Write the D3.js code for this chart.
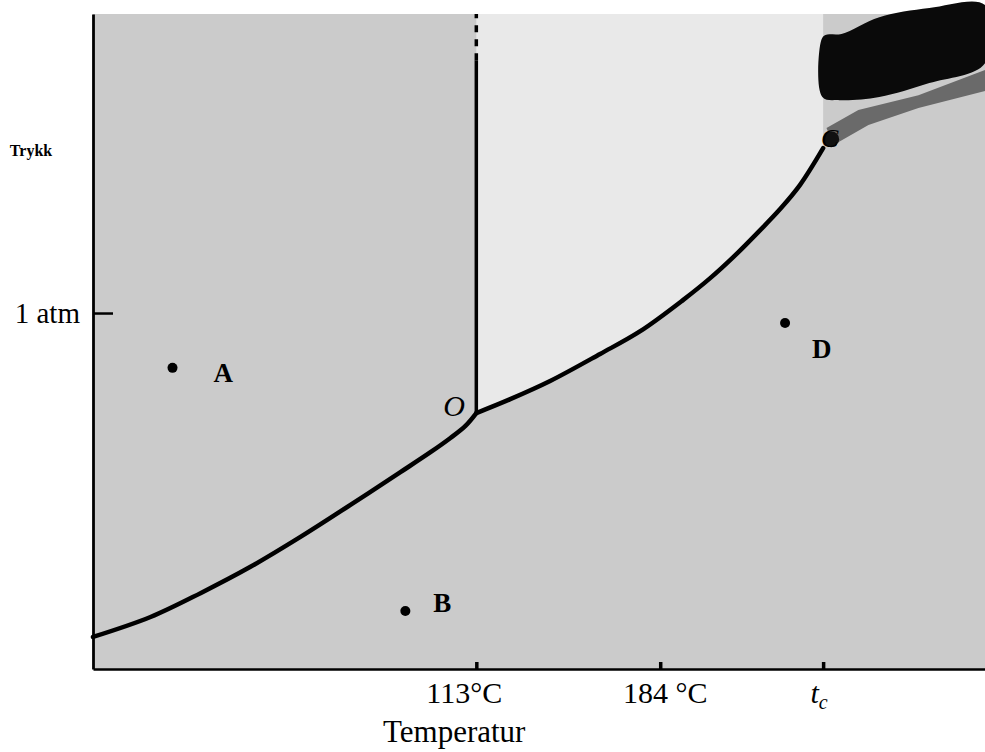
<!DOCTYPE html>
<html>
<head>
<meta charset="utf-8">
<script src="https://cdn.jsdelivr.net/npm/d3@7"></script>
<style>
  html, body { margin: 0; padding: 0; background: #ffffff; }
  svg { display: block; }
  text { font-family: "Liberation Serif", "DejaVu Serif", serif; fill: #000; }
</style>
</head>
<body>
<svg id="chart" width="985" height="752"></svg>
<script>
// ---------- data (diagram units: temperature in °C-like units, pressure in atm-like units) ----------
const tDomain = [-35, 309.4];
const pDomain = [0, 1.84];

// sublimation curve (solid–vapour), ends at triple point O
const sublimationT = [-35, -12.8, 6.5, 25.8, 45.1, 64.4, 83.7, 95.3, 103, 108.8, 113];
const sublimationP = [0.090, 0.146, 0.213, 0.287, 0.371, 0.461, 0.553, 0.609, 0.649, 0.683, 0.719];

// vapour-pressure curve (liquid–vapour), from O to critical point C
const vaporT = [113, 126.1, 141.5, 160.8, 176.3, 192.9, 203.3, 212.2, 222.6, 230.3, 238.0, 246.9];
const vaporP = [0.719, 0.758, 0.809, 0.885, 0.949, 1.037, 1.098, 1.157, 1.233, 1.292, 1.360, 1.463];

// melting line (vertical) from O upward
const meltingT = 113;
const meltingP = [0.719, 1.71, 1.84];   // solid part, then dashed part

// x-axis ticks
const xTickValues = [113, 184, 246.9];
const xTickLabels = ["113°C", "184 °C", "t_c"];

// y-axis tick
const yTickValues = [1];
const yTickLabels = ["1 atm"];

// labelled points
const pointNames = ["A", "B", "D"];
const pointT = [-4.3, 85.6, 232.2];
const pointP = [0.846, 0.163, 0.972];

// triple point and critical point labels
const specialNames = ["O", "C"];
const specialT = [113, 246.9];
const specialP = [0.719, 1.463];

// ink smear near the critical point (scan artefact), in diagram units
const smearT = [246.2, 247.8, 254.0, 268.6, 287.9, 309.4, 309.4, 287.9, 268.6, 253.2, 246.6];
const smearP = [1.767, 1.781, 1.784, 1.831, 1.857, 1.865, 1.702, 1.646, 1.607, 1.598, 1.607];
const hazeT = [248.2, 260.5, 283.7, 309.4, 309.4, 283.7, 264.4, 250.9];
const hazeP = [1.520, 1.570, 1.612, 1.683, 1.624, 1.576, 1.528, 1.472];

// ---------- drawing ----------
const svg = d3.select("#chart");
const x = d3.scaleLinear().domain(tDomain).range([93, 985]);
const y = d3.scaleLinear().domain(pDomain).range([669, 14]);

const zip = (a, b) => a.map((v, i) => [v, b[i]]);
const sub = zip(sublimationT, sublimationP);
const vap = zip(vaporT, vaporP);

const line = d3.line().x(d => x(d[0])).y(d => y(d[1])).curve(d3.curveCatmullRom.alpha(0.5));
const lin = d3.line().x(d => x(d[0])).y(d => y(d[1]));

// background (scanned halftone approximated by flat grey)
svg.append("rect")
  .attr("x", x(tDomain[0])).attr("y", y(pDomain[1]))
  .attr("width", x(tDomain[1]) - x(tDomain[0]))
  .attr("height", y(pDomain[0]) - y(pDomain[1]))
  .attr("fill", "#cbcbcb");

// liquid region (lighter)
svg.append("path")
  .attr("d", lin([[meltingT, pDomain[1]], [specialT[1], pDomain[1]]]) +
      line(vap.slice().reverse()).replace(/^M/, "L") + "Z")
  .attr("fill", "#e9e9e9");

// smear artefacts
svg.append("path")
  .attr("d", d3.line().x(d => x(d[0])).y(d => y(d[1])).curve(d3.curveLinearClosed)(zip(hazeT, hazeP)))
  .attr("fill", "#6a6a6a");
svg.append("path")
  .attr("d", d3.line().x(d => x(d[0])).y(d => y(d[1])).curve(d3.curveCatmullRomClosed)(zip(smearT, smearP)))
  .attr("fill", "#0a0a0a");

// curves
svg.append("path").attr("d", line(sub))
  .attr("fill", "none").attr("stroke", "#000").attr("stroke-width", 4.5).attr("stroke-linecap", "round");
svg.append("path").attr("d", line(vap))
  .attr("fill", "none").attr("stroke", "#000").attr("stroke-width", 4.5).attr("stroke-linecap", "round");

// melting line
svg.append("line")
  .attr("x1", x(meltingT)).attr("x2", x(meltingT))
  .attr("y1", y(meltingP[0])).attr("y2", y(meltingP[1]))
  .attr("stroke", "#000").attr("stroke-width", 3.5);
svg.append("line")
  .attr("x1", x(meltingT)).attr("x2", x(meltingT))
  .attr("y1", y(meltingP[1])).attr("y2", y(meltingP[2]))
  .attr("stroke", "#000").attr("stroke-width", 3.5).attr("stroke-dasharray", "7,7");

// critical point blob
svg.append("circle").attr("cx", x(specialT[1]) + 8).attr("cy", y(specialP[1]) - 9).attr("r", 8).attr("fill", "#111");

// axes
const xAxis = d3.axisBottom(x).tickValues(xTickValues).tickSize(0).tickFormat("");
const gx = svg.append("g").attr("transform", `translate(0,${y(0)})`).call(xAxis);
gx.select(".domain").attr("stroke", "#000").attr("stroke-width", 2.5);
gx.selectAll(".tick").append("line")
  .attr("y1", 0).attr("y2", -7).attr("stroke", "#000").attr("stroke-width", 3.5);

const yAxis = d3.axisLeft(y).tickValues(yTickValues).tickSize(0).tickFormat("");
const gy = svg.append("g").attr("transform", `translate(${x(tDomain[0])},0)`).call(yAxis);
gy.select(".domain").attr("stroke", "#000").attr("stroke-width", 2.8);
gy.selectAll(".tick").append("line")
  .attr("x1", 0).attr("x2", 20).attr("stroke", "#000").attr("stroke-width", 2.5);

// x tick labels
const xLabelDx = [-12, 5, -4];
xTickValues.forEach((v, i) => {
  const lbl = xTickLabels[i];
  const t = svg.append("text")
    .attr("x", x(v) + xLabelDx[i]).attr("y", 703)
    .attr("text-anchor", "middle").attr("font-size", 30);
  if (lbl.includes("_")) {
    const [base, s] = lbl.split("_");
    t.attr("font-style", "italic");
    t.append("tspan").text(base);
    t.append("tspan").attr("font-size", 20).attr("dy", 6).text(s);
  } else {
    t.text(lbl);
  }
});

// y tick label
yTickValues.forEach((v, i) => {
  svg.append("text").attr("x", 80).attr("y", y(v) + 10)
    .attr("text-anchor", "end").attr("font-size", 29).text(yTickLabels[i]);
});

// axis titles
svg.append("text").attr("x", 383).attr("y", 742).attr("font-size", 31).text("Temperatur");
svg.append("text").attr("x", 31).attr("y", 156).attr("text-anchor", "middle")
  .attr("font-size", 16).attr("font-weight", "bold").text("Trykk");

// points
const labelDx = [41, 28, 27];
const labelDy = [14, 1, 35];
pointNames.forEach((n, i) => {
  svg.append("circle").attr("cx", x(pointT[i])).attr("cy", y(pointP[i])).attr("r", 5).attr("fill", "#000");
  svg.append("text").attr("x", x(pointT[i]) + labelDx[i]).attr("y", y(pointP[i]) + labelDy[i])
    .attr("font-size", 27).attr("font-weight", "bold").text(n);
});

// O and C labels
svg.append("text").attr("x", x(specialT[0]) - 33).attr("y", y(specialP[0]) + 3)
  .attr("font-size", 30).attr("font-style", "italic").text(specialNames[0]);
svg.append("text").attr("x", x(specialT[1]) - 2).attr("y", y(specialP[1]) - 1)
  .attr("font-size", 26).attr("font-style", "italic").attr("fill", "#222").text(specialNames[1]);
</script>
</body>
</html>
